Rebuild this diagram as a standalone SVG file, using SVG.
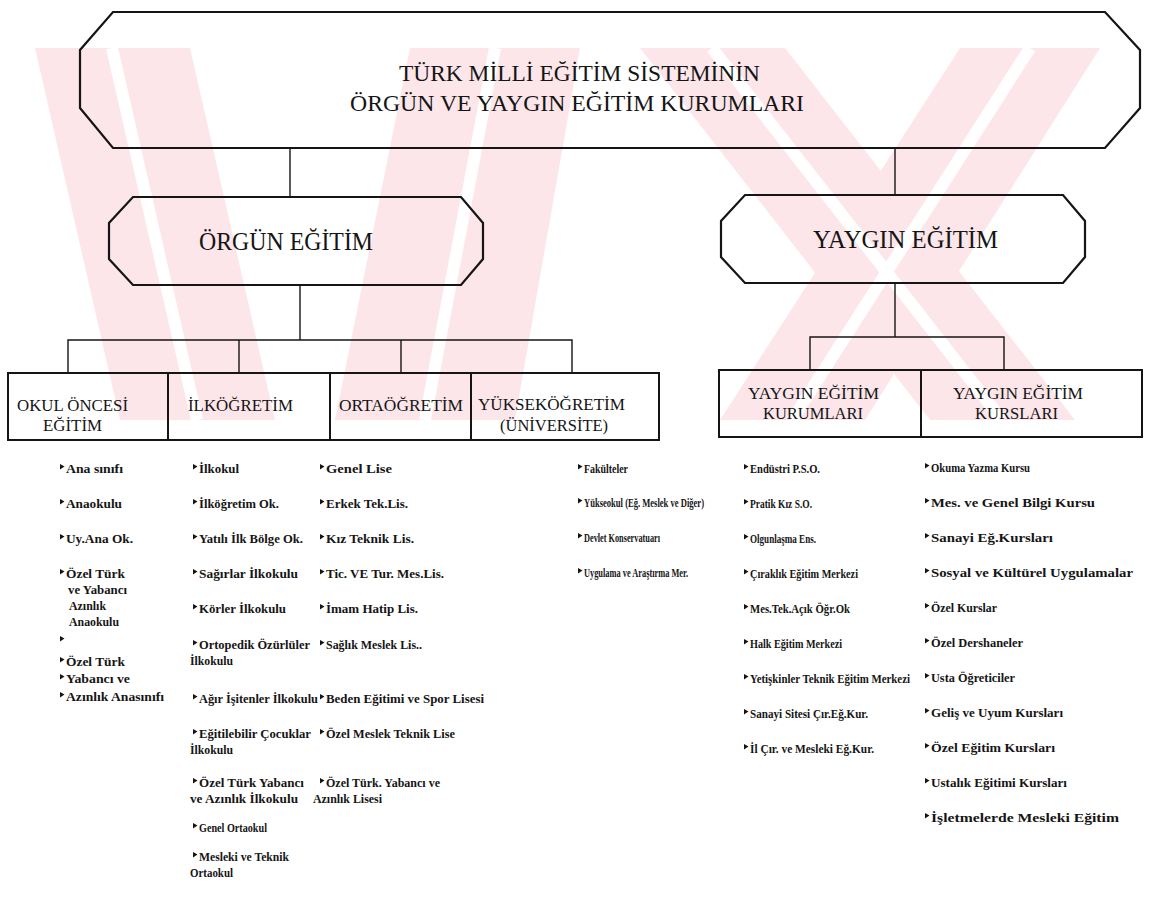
<svg xmlns="http://www.w3.org/2000/svg" width="1149" height="902" viewBox="0 0 1149 902">
<style>
.wm{fill:#fce6ea}
.ws{stroke:#ffffff;stroke-width:12;fill:none}
.box{fill:none;stroke:#151515;stroke-width:2.2;stroke-linejoin:miter}
.cell{fill:none;stroke:#151515;stroke-width:2}
.ln{fill:none;stroke:#151515;stroke-width:1.4}
.t{font-family:"Liberation Serif","DejaVu Serif","Times New Roman",serif;fill:#151515}
.ti{font-size:24px}
.hd{font-size:25px}
.ch{font-size:17.5px}
.it{font-family:"Liberation Serif","DejaVu Serif","Times New Roman",serif;font-size:11.5px;font-weight:bold;fill:#151515}
.bu{fill:#151515}
</style>
<defs>
<path id="b" d="M0,-9 L4.5,-6.5 L0,-3.5 Z"/>
<clipPath id="wc"><rect x="0" y="48" width="1149" height="372"/></clipPath>
</defs>
<rect width="1149" height="902" fill="#ffffff"/>
<g id="watermark" clip-path="url(#wc)">
<polygon class="wm" points="35,48 190,48 275,420 120,420"/>
<polygon class="wm" points="410,48 580,48 515,420 335,420"/>
<polygon class="wm" points="640,48 785,48 1075,420 930,420"/>
<polygon class="wm" points="960,48 1100,48 865,420 720,420"/>
<line class="ws" x1="112" y1="48" x2="197" y2="420"/>
<line class="ws" x1="495" y1="48" x2="425" y2="420"/>
<line class="ws" x1="712" y1="48" x2="1002" y2="420"/>
<line class="ws" x1="1030" y1="48" x2="792" y2="420"/>
</g>
<g id="connectors">
<line class="ln" x1="290" y1="148" x2="290" y2="197"/>
<line class="ln" x1="895" y1="148" x2="895" y2="195"/>
<line class="ln" x1="300" y1="285" x2="300" y2="340"/>
<polyline class="ln" points="68,373 68,340 572,340 572,373"/>
<line class="ln" x1="239" y1="340" x2="239" y2="373"/>
<line class="ln" x1="401" y1="340" x2="401" y2="373"/>
<line class="ln" x1="895" y1="283" x2="895" y2="337"/>
<polyline class="ln" points="810,370 810,337 1004,337 1004,370"/>
</g>
<g id="root">
<polygon class="box" points="113,12 1105,12 1140,50 1140,108 1105,148 113,148 80,108 80,50"/>
<text class="t ti" x="399" y="81" textLength="361" lengthAdjust="spacingAndGlyphs">TÜRK MİLLİ EĞİTİM SİSTEMİNİN</text>
<text class="t ti" x="350" y="111" textLength="454" lengthAdjust="spacingAndGlyphs">ÖRGÜN VE YAYGIN EĞİTİM KURUMLARI</text>
</g>
<g id="orgun">
<polygon class="box" points="133,197 461,197 483,223 483,259 461,285 133,285 109,259 109,223"/>
<text class="t hd" x="199" y="250" textLength="174" lengthAdjust="spacingAndGlyphs">ÖRGÜN EĞİTİM</text>
</g>
<g id="yaygin">
<polygon class="box" points="745,195 1063,195 1085,221 1085,257 1063,283 745,283 721,257 721,221"/>
<text class="t hd" x="813" y="248" textLength="185" lengthAdjust="spacingAndGlyphs">YAYGIN EĞİTİM</text>
</g>
<g id="okul-oncesi">
<rect class="cell" x="8" y="373" width="160" height="67"/>
<text class="t ch" x="17" y="411" textLength="111" lengthAdjust="spacingAndGlyphs">OKUL ÖNCESİ</text>
<text class="t ch" x="43" y="431" textLength="59" lengthAdjust="spacingAndGlyphs">EĞİTİM</text>
</g>
<g id="ilkogretim">
<rect class="cell" x="168" y="373" width="162" height="67"/>
<text class="t ch" x="188" y="411" textLength="105" lengthAdjust="spacingAndGlyphs">İLKÖĞRETİM</text>
</g>
<g id="ortaogretim">
<rect class="cell" x="330" y="373" width="141" height="67"/>
<text class="t ch" x="339" y="411" textLength="124" lengthAdjust="spacingAndGlyphs">ORTAÖĞRETİM</text>
</g>
<g id="yuksekogretim">
<rect class="cell" x="471" y="373" width="188" height="67"/>
<text class="t ch" x="478" y="410" textLength="147" lengthAdjust="spacingAndGlyphs">YÜKSEKÖĞRETİM</text>
<text class="t ch" x="500" y="431" textLength="108" lengthAdjust="spacingAndGlyphs">(ÜNİVERSİTE)</text>
</g>
<g id="yaygin-kurumlari">
<rect class="cell" x="719" y="370" width="202" height="67"/>
<text class="t ch" x="748" y="399" textLength="131" lengthAdjust="spacingAndGlyphs">YAYGIN EĞİTİM</text>
<text class="t ch" x="763" y="419" textLength="100" lengthAdjust="spacingAndGlyphs">KURUMLARI</text>
</g>
<g id="yaygin-kurslari">
<rect class="cell" x="921" y="370" width="221" height="67"/>
<text class="t ch" x="953" y="399" textLength="130" lengthAdjust="spacingAndGlyphs">YAYGIN EĞİTİM</text>
<text class="t ch" x="975" y="419" textLength="83" lengthAdjust="spacingAndGlyphs">KURSLARI</text>
</g>
<g id="list-okul-oncesi">
<use href="#b" class="bu" x="60" y="473"/><text class="it" x="66" y="473" textLength="57" lengthAdjust="spacingAndGlyphs">Ana sınıfı</text>
<use href="#b" class="bu" x="60" y="508"/><text class="it" x="66" y="508" textLength="56" lengthAdjust="spacingAndGlyphs">Anaokulu</text>
<use href="#b" class="bu" x="60" y="543"/><text class="it" x="66" y="543" textLength="67" lengthAdjust="spacingAndGlyphs">Uy.Ana Ok.</text>
<use href="#b" class="bu" x="60" y="578"/><text class="it" x="66" y="578" textLength="59" lengthAdjust="spacingAndGlyphs">Özel Türk</text>
<text class="it" x="68" y="594" textLength="59" lengthAdjust="spacingAndGlyphs">ve Yabancı</text>
<text class="it" x="69" y="610" textLength="37" lengthAdjust="spacingAndGlyphs">Azınlık</text>
<text class="it" x="69" y="626" textLength="50" lengthAdjust="spacingAndGlyphs">Anaokulu</text>
<use href="#b" class="bu" x="60" y="645"/>
<use href="#b" class="bu" x="60" y="666"/><text class="it" x="66" y="666" textLength="59" lengthAdjust="spacingAndGlyphs">Özel Türk</text>
<use href="#b" class="bu" x="60" y="683"/><text class="it" x="66" y="683" textLength="64" lengthAdjust="spacingAndGlyphs">Yabancı ve</text>
<use href="#b" class="bu" x="60" y="701"/><text class="it" x="66" y="701" textLength="98" lengthAdjust="spacingAndGlyphs">Azınlık Anasınıfı</text>
</g>
<g id="list-ilkogretim">
<use href="#b" class="bu" x="193" y="473"/><text class="it" x="199" y="473" textLength="40" lengthAdjust="spacingAndGlyphs">İlkokul</text>
<use href="#b" class="bu" x="193" y="508"/><text class="it" x="199" y="508" textLength="80" lengthAdjust="spacingAndGlyphs">İlköğretim Ok.</text>
<use href="#b" class="bu" x="193" y="543"/><text class="it" x="199" y="543" textLength="104" lengthAdjust="spacingAndGlyphs">Yatılı İlk Bölge Ok.</text>
<use href="#b" class="bu" x="193" y="578"/><text class="it" x="199" y="578" textLength="99" lengthAdjust="spacingAndGlyphs">Sağırlar İlkokulu</text>
<use href="#b" class="bu" x="193" y="613"/><text class="it" x="199" y="613" textLength="87" lengthAdjust="spacingAndGlyphs">Körler İlkokulu</text>
<use href="#b" class="bu" x="193" y="649"/><text class="it" x="199" y="649" textLength="111" lengthAdjust="spacingAndGlyphs">Ortopedik Özürlüler</text>
<text class="it" x="190" y="665" textLength="43" lengthAdjust="spacingAndGlyphs">İlkokulu</text>
<use href="#b" class="bu" x="193" y="703"/><text class="it" x="199" y="703" textLength="119" lengthAdjust="spacingAndGlyphs">Ağır İşitenler İlkokulu</text>
<use href="#b" class="bu" x="193" y="738"/><text class="it" x="199" y="738" textLength="112" lengthAdjust="spacingAndGlyphs">Eğitilebilir Çocuklar</text>
<text class="it" x="190" y="754" textLength="43" lengthAdjust="spacingAndGlyphs">İlkokulu</text>
<use href="#b" class="bu" x="193" y="787"/><text class="it" x="199" y="787" textLength="105" lengthAdjust="spacingAndGlyphs">Özel Türk Yabancı</text>
<text class="it" x="190" y="803" textLength="108" lengthAdjust="spacingAndGlyphs">ve Azınlık İlkokulu</text>
<use href="#b" class="bu" x="193" y="832"/><text class="it" x="199" y="832" textLength="68" lengthAdjust="spacingAndGlyphs">Genel Ortaokul</text>
<use href="#b" class="bu" x="193" y="861"/><text class="it" x="199" y="861" textLength="90" lengthAdjust="spacingAndGlyphs">Mesleki ve Teknik</text>
<text class="it" x="190" y="877" textLength="43" lengthAdjust="spacingAndGlyphs">Ortaokul</text>
</g>
<g id="list-ortaogretim">
<use href="#b" class="bu" x="320" y="473"/><text class="it" x="326" y="473" textLength="66" lengthAdjust="spacingAndGlyphs">Genel Lise</text>
<use href="#b" class="bu" x="320" y="508"/><text class="it" x="326" y="508" textLength="82" lengthAdjust="spacingAndGlyphs">Erkek Tek.Lis.</text>
<use href="#b" class="bu" x="320" y="543"/><text class="it" x="326" y="543" textLength="88" lengthAdjust="spacingAndGlyphs">Kız Teknik Lis.</text>
<use href="#b" class="bu" x="320" y="578"/><text class="it" x="326" y="578" textLength="118" lengthAdjust="spacingAndGlyphs">Tic. VE Tur. Mes.Lis.</text>
<use href="#b" class="bu" x="320" y="613"/><text class="it" x="326" y="613" textLength="92" lengthAdjust="spacingAndGlyphs">İmam Hatip Lis.</text>
<use href="#b" class="bu" x="320" y="649"/><text class="it" x="326" y="649" textLength="96" lengthAdjust="spacingAndGlyphs">Sağlık Meslek Lis..</text>
<use href="#b" class="bu" x="320" y="703"/><text class="it" x="326" y="703" textLength="158" lengthAdjust="spacingAndGlyphs">Beden Eğitimi ve Spor Lisesi</text>
<use href="#b" class="bu" x="320" y="738"/><text class="it" x="326" y="738" textLength="129" lengthAdjust="spacingAndGlyphs">Özel Meslek Teknik Lise</text>
<use href="#b" class="bu" x="320" y="787"/><text class="it" x="326" y="787" textLength="114" lengthAdjust="spacingAndGlyphs">Özel Türk. Yabancı ve</text>
<text class="it" x="313" y="803" textLength="69" lengthAdjust="spacingAndGlyphs">Azınlık Lisesi</text>
</g>
<g id="list-yuksekogretim">
<use href="#b" class="bu" x="578" y="473"/><text class="it" x="584" y="473" textLength="44" lengthAdjust="spacingAndGlyphs">Fakülteler</text>
<use href="#b" class="bu" x="578" y="507"/><text class="it" x="584" y="507" textLength="120" lengthAdjust="spacingAndGlyphs">Yükseokul (Eğ. Meslek ve Diğer)</text>
<use href="#b" class="bu" x="578" y="542"/><text class="it" x="584" y="542" textLength="76" lengthAdjust="spacingAndGlyphs">Devlet Konservatuarı</text>
<use href="#b" class="bu" x="578" y="577"/><text class="it" x="584" y="577" textLength="104" lengthAdjust="spacingAndGlyphs">Uygulama ve Araştırma Mer.</text>
</g>
<g id="list-kurumlari">
<use href="#b" class="bu" x="744" y="473"/><text class="it" x="750" y="473" textLength="70" lengthAdjust="spacingAndGlyphs">Endüstri P.S.O.</text>
<use href="#b" class="bu" x="744" y="508"/><text class="it" x="750" y="508" textLength="62" lengthAdjust="spacingAndGlyphs">Pratik Kız S.O.</text>
<use href="#b" class="bu" x="744" y="543"/><text class="it" x="750" y="543" textLength="66" lengthAdjust="spacingAndGlyphs">Olgunlaşma Ens.</text>
<use href="#b" class="bu" x="744" y="578"/><text class="it" x="750" y="578" textLength="108" lengthAdjust="spacingAndGlyphs">Çıraklık Eğitim Merkezi</text>
<use href="#b" class="bu" x="744" y="613"/><text class="it" x="750" y="613" textLength="100" lengthAdjust="spacingAndGlyphs">Mes.Tek.Açık Öğr.Ok</text>
<use href="#b" class="bu" x="744" y="648"/><text class="it" x="750" y="648" textLength="92" lengthAdjust="spacingAndGlyphs">Halk Eğitim Merkezi</text>
<use href="#b" class="bu" x="744" y="683"/><text class="it" x="750" y="683" textLength="160" lengthAdjust="spacingAndGlyphs">Yetişkinler Teknik Eğitim Merkezi</text>
<use href="#b" class="bu" x="744" y="718"/><text class="it" x="750" y="718" textLength="118" lengthAdjust="spacingAndGlyphs">Sanayi Sitesi Çır.Eğ.Kur.</text>
<use href="#b" class="bu" x="744" y="753"/><text class="it" x="750" y="753" textLength="124" lengthAdjust="spacingAndGlyphs">İl Çır. ve Mesleki Eğ.Kur.</text>
</g>
<g id="list-kurslari">
<use href="#b" class="bu" x="925" y="472"/><text class="it" x="931" y="472" textLength="99" lengthAdjust="spacingAndGlyphs">Okuma Yazma Kursu</text>
<use href="#b" class="bu" x="925" y="507"/><text class="it" x="931" y="507" textLength="164" lengthAdjust="spacingAndGlyphs">Mes. ve Genel Bilgi Kursu</text>
<use href="#b" class="bu" x="925" y="542"/><text class="it" x="931" y="542" textLength="122" lengthAdjust="spacingAndGlyphs">Sanayi Eğ.Kursları</text>
<use href="#b" class="bu" x="925" y="577"/><text class="it" x="931" y="577" textLength="202" lengthAdjust="spacingAndGlyphs">Sosyal ve Kültürel Uygulamalar</text>
<use href="#b" class="bu" x="925" y="612"/><text class="it" x="931" y="612" textLength="66" lengthAdjust="spacingAndGlyphs">Özel Kurslar</text>
<use href="#b" class="bu" x="925" y="647"/><text class="it" x="931" y="647" textLength="92" lengthAdjust="spacingAndGlyphs">Özel Dershaneler</text>
<use href="#b" class="bu" x="925" y="682"/><text class="it" x="931" y="682" textLength="84" lengthAdjust="spacingAndGlyphs">Usta Öğreticiler</text>
<use href="#b" class="bu" x="925" y="717"/><text class="it" x="931" y="717" textLength="132" lengthAdjust="spacingAndGlyphs">Geliş ve Uyum Kursları</text>
<use href="#b" class="bu" x="925" y="752"/><text class="it" x="931" y="752" textLength="124" lengthAdjust="spacingAndGlyphs">Özel Eğitim Kursları</text>
<use href="#b" class="bu" x="925" y="787"/><text class="it" x="931" y="787" textLength="136" lengthAdjust="spacingAndGlyphs">Ustalık Eğitimi Kursları</text>
<use href="#b" class="bu" x="925" y="822"/><text class="it" x="931" y="822" textLength="188" lengthAdjust="spacingAndGlyphs">İşletmelerde Mesleki Eğitim</text>
</g>
</svg>
